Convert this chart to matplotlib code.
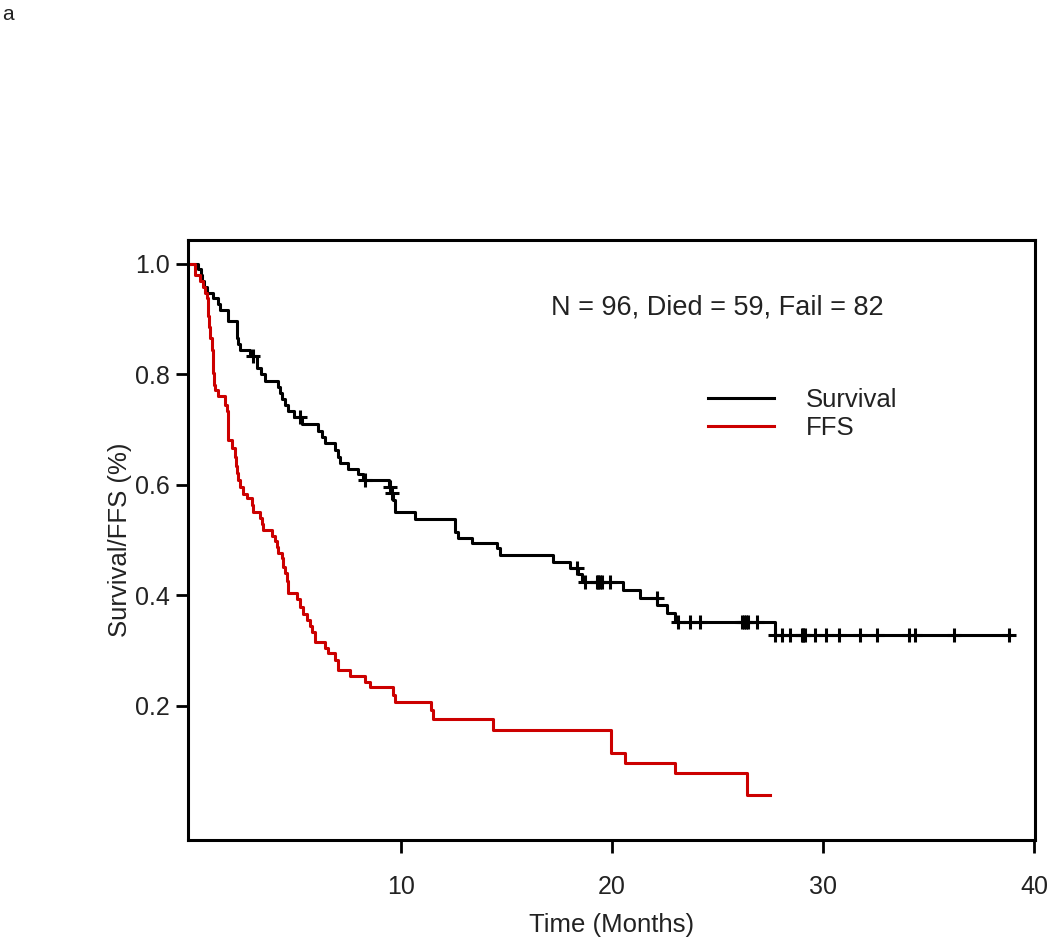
import numpy as np
import matplotlib
matplotlib.use("Agg")
import matplotlib.pyplot as plt

# Kaplan-Meier steps (time in months, survival after the drop)
surv_times = [0.39, 0.50, 0.58, 0.67, 0.79, 1.10, 1.34, 1.42, 1.82, 2.21, 2.29, 2.37,
              2.84, 3.16, 3.35, 3.55, 4.18, 4.26, 4.34, 4.50, 4.66, 4.95, 5.30, 6.08,
              6.24, 6.40, 6.87, 7.03, 7.11, 7.50, 7.98, 8.21, 9.45, 9.53, 9.62, 9.72,
              10.66, 12.56, 12.72, 13.35, 14.53, 14.69, 17.22, 18.01, 18.40, 18.56,
              20.54, 21.33, 22.15, 22.59, 22.99, 27.73]
surv_values = [0.990, 0.979, 0.969, 0.958, 0.948, 0.938, 0.927, 0.917, 0.896, 0.865, 0.854, 0.844,
               0.833, 0.811, 0.800, 0.788, 0.777, 0.766, 0.755, 0.744, 0.733, 0.722, 0.710, 0.698,
               0.686, 0.675, 0.663, 0.651, 0.640, 0.628, 0.620, 0.609, 0.597, 0.585, 0.572, 0.551,
               0.539, 0.515, 0.503, 0.494, 0.485, 0.473, 0.461, 0.450, 0.438, 0.425,
               0.410, 0.396, 0.383, 0.368, 0.352, 0.328]
surv_censored = [3.0, 5.21, 8.29, 9.48, 9.56, 18.33, 18.72, 19.27, 19.35, 19.43, 19.51, 19.9,
                 22.12, 23.14, 23.7, 24.17, 26.15, 26.25, 26.35, 26.46, 26.86, 27.73, 28.04,
                 28.44, 28.99, 29.07, 29.15, 29.62, 30.14, 30.77, 31.75, 32.54, 34.09, 34.36,
                 36.21, 38.8]
surv_end = 38.8

ffs_times = [0.24, 0.47, 0.63, 0.71, 0.79, 0.83, 0.87, 0.91, 0.95, 1.03, 1.07, 1.11, 1.15,
             1.18, 1.34, 1.66, 1.74, 1.78, 1.82, 1.97, 2.13, 2.17, 2.21, 2.29, 2.37, 2.53,
             2.72, 2.92, 3.00, 3.32, 3.40, 3.47, 3.87, 4.03, 4.10, 4.18, 4.34, 4.42, 4.50,
             4.58, 4.62, 4.66, 5.06, 5.21, 5.37, 5.53, 5.68, 5.77, 5.92, 6.40, 6.56, 6.87,
             7.03, 7.60, 8.29, 8.53, 9.64, 9.72, 11.40, 11.50, 14.37, 19.95, 20.60, 22.99,
             26.38]
ffs_values = [0.979, 0.969, 0.958, 0.948, 0.938, 0.927, 0.906, 0.885, 0.865, 0.844, 0.823, 0.802, 0.781,
              0.771, 0.760, 0.744, 0.733, 0.712, 0.681, 0.667, 0.650, 0.635, 0.621, 0.608, 0.596, 0.584,
              0.576, 0.563, 0.551, 0.540, 0.529, 0.519, 0.508, 0.498, 0.488, 0.477, 0.467, 0.452, 0.440,
              0.427, 0.415, 0.404, 0.394, 0.379, 0.367, 0.355, 0.344, 0.334, 0.316, 0.305, 0.295, 0.283,
              0.265, 0.254, 0.244, 0.235, 0.219, 0.208, 0.193, 0.177, 0.156, 0.115, 0.097, 0.078,
              0.039]
ffs_end = 27.5

y_ticks = [0.2, 0.4, 0.6, 0.8, 1.0]
x_ticks = [10, 20, 30, 40]
summary = "N = 96, Died = 59, Fail = 82"

plt.rcParams['font.family'] = ['Liberation Sans', 'DejaVu Sans']
text_color = '#222222'


def step_at(times, values, t):
    i = np.searchsorted(times, t, side='right') - 1
    return 1.0 if i < 0 else values[i]


fig = plt.figure(figsize=(10.5, 9.39), dpi=100)
ax = fig.add_axes([0.179, 0.1054, 0.8067, 0.639])

# survival curve
ax.step([0] + surv_times + [surv_end], [1.0] + surv_values + [surv_values[-1]],
        where='post', color='black', lw=2.2, label='Survival')
cens_y = [step_at(surv_times, surv_values, t) for t in surv_censored]
ax.plot(surv_censored, cens_y, ls='none', marker='+', ms=10, mew=2.2, color='black')

# failure-free survival curve
ax.step([0] + ffs_times + [ffs_end], [1.0] + ffs_values + [ffs_values[-1]],
        where='post', color='#cc0000', lw=2.2, label='FFS')

ax.set_xlim(-0.1, 40.05)
ax.set_ylim(-0.0425, 1.043)
ax.set_xticks(x_ticks)
ax.set_yticks(y_ticks)
ax.set_yticklabels([f"{v:.1f}" for v in y_ticks])
ax.tick_params(axis='both', length=9, width=2, labelsize=18, labelcolor=text_color)
ax.tick_params(axis='x', pad=16)
ax.tick_params(axis='y', pad=4)
for sp in ax.spines.values():
    sp.set_linewidth(2.2)

ax.set_xlabel('Time (Months)', fontsize=18.5, color=text_color, labelpad=10)
ax.set_ylabel('Survival/FFS (%)', fontsize=18.5, color=text_color, labelpad=2)

ax.text(25.0, 0.921, summary, fontsize=19.5, color=text_color, ha='center', va='center')

ax.legend(loc='center left', bbox_to_anchor=(0.614, 0.71), frameon=False, fontsize=18.5,
          handlelength=2.55, handletextpad=1.25, labelspacing=0.12, borderpad=0,
          borderaxespad=0, labelcolor=text_color)

fig.text(0.002, 0.995, 'a', fontsize=15, va='top', ha='left', color=text_color)

fig.savefig('out.png', dpi=100)
